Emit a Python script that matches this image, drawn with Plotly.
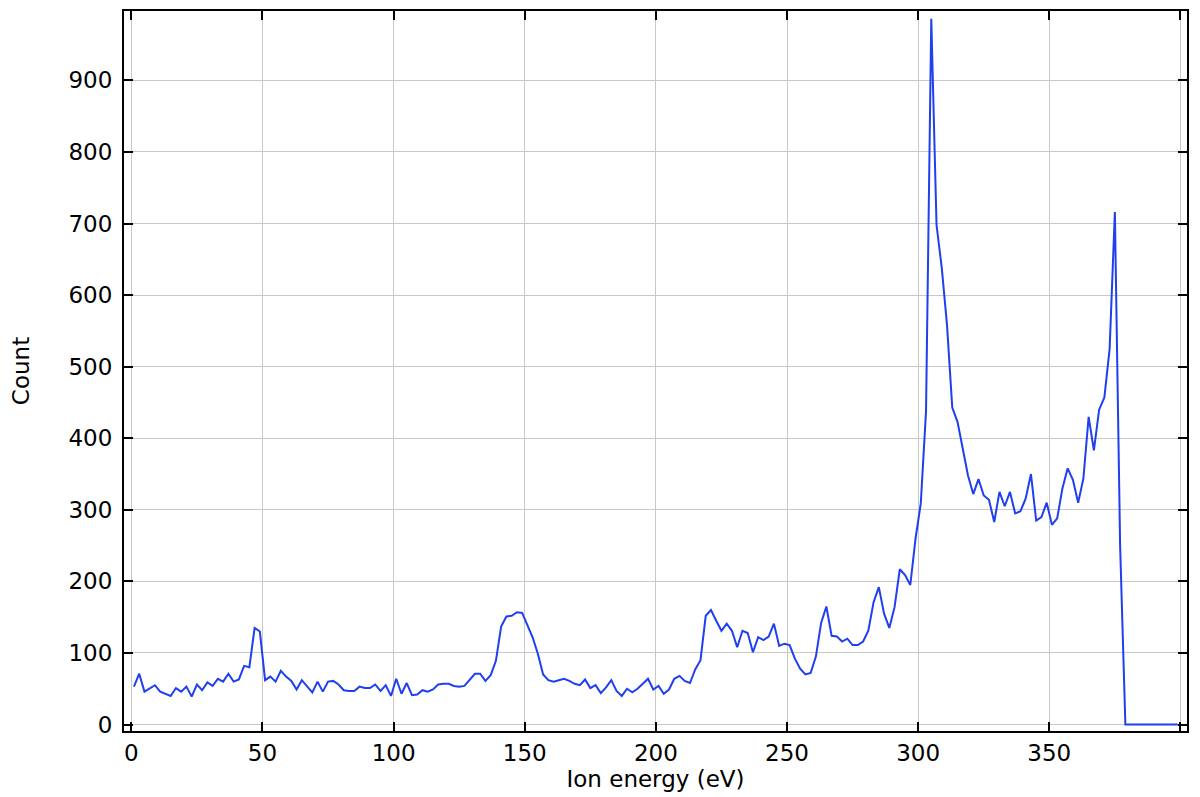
import plotly.graph_objects as go

energy_ev = list(range(1, 400, 2))

counts = [
    53, 71, 46, 51, 55, 46, 43, 40, 51, 46, 53, 39, 56, 48, 59, 54, 64, 60, 71, 60, 63, 82, 80, 135, 130,
    62, 67, 60, 75, 67, 61, 49, 62, 53, 45, 60, 46, 60, 61, 56, 48, 47, 47, 53, 51, 51, 56, 47, 55, 40,
    64, 43, 58, 41, 42, 48, 46, 49, 56, 57, 57, 54, 53, 54, 62, 71, 71, 61, 69, 89, 137, 151, 152, 157, 156,
    138, 122, 99, 70, 62, 60, 62, 64, 61, 57, 55, 63, 51, 55, 44, 52, 62, 47, 40, 50, 45, 50, 57, 64, 49,
    54, 43, 49, 64, 68, 61, 58, 77, 90, 152, 160, 145, 131, 141, 131, 108, 131, 128, 101, 122, 118, 123, 141, 110, 113,
    111, 92, 78, 70, 72, 95, 142, 165, 124, 123, 116, 120, 111, 111, 116, 131, 171, 192, 155, 135, 164, 217, 209, 195, 260,
    309, 438, 986, 698, 638, 558, 443, 423, 383, 348, 322, 343, 320, 314, 283, 325, 305, 325, 295, 298, 316, 350, 285, 290, 310,
    279, 288, 330, 358, 342, 310, 344, 430, 383, 440, 457, 525, 716, 250, 0, 0, 0, 0, 0, 0, 0, 0, 0, 0, 0,
]

x_tickvals = [0, 50, 100, 150, 200, 250, 300, 350, 400]
x_ticktext = ["0", "50", "100", "150", "200", "250", "300", "350", ""]
y_tickvals = [0, 100, 200, 300, 400, 500, 600, 700, 800, 900]

FONT = "DejaVu Sans"
FS = 23

fig = go.Figure()
fig.add_trace(go.Scatter(
    x=energy_ev, y=counts, mode="lines",
    line=dict(color="#1f3ff0", width=2),
    hoverinfo="x+y",
))

axis_common = dict(
    showline=True, linecolor="black", linewidth=2,
    mirror="ticks", ticks="inside", ticklen=9, tickwidth=1.5, tickcolor="black",
    showgrid=True, gridcolor="#c8c8c8", gridwidth=1,
    zeroline=False, automargin=False,
    tickfont=dict(family=FONT, size=FS, color="black"),
)

fig.update_xaxes(
    **axis_common,
    range=[-2.8, 402.5],
    tickmode="array", tickvals=x_tickvals, ticktext=x_ticktext,
    title=dict(text="Ion energy (eV)", font=dict(family=FONT, size=FS, color="black"), standoff=0),
)
fig.update_yaxes(
    **axis_common,
    range=[-9, 997],
    tickmode="array", tickvals=y_tickvals,
    ticklabelstandoff=5,
    title=dict(text="Count", font=dict(family=FONT, size=FS, color="black"), standoff=44),
)

# page body has an 8px default margin, so the figure is sized to fit inside it
fig.update_layout(
    width=1192, height=789,
    margin=dict(l=116, r=13, t=3, b=66),
    plot_bgcolor="white", paper_bgcolor="white",
    showlegend=False,
)

fig.write_html("out.html")
